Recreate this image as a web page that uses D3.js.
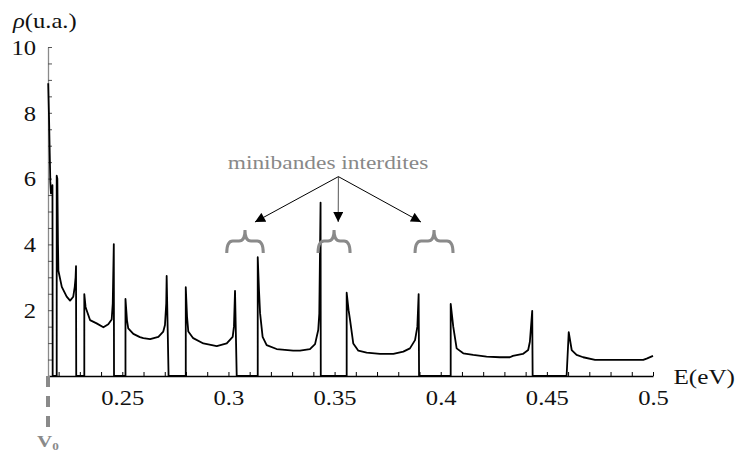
<!DOCTYPE html>
<html><head><meta charset="utf-8">
<script src="https://cdn.jsdelivr.net/npm/d3@7"></script>
<style>body{margin:0;background:#fff} svg{display:block}</style>
</head><body><svg id="c" width="737" height="452"></svg>
<script>
// Density of states rho(E) (u.a.) versus energy E (eV)
const energy = [
  0.2151,0.2155,0.2158,0.2161,0.2164,0.2168,0.2171,0.2172,
  0.2191,0.2191,0.2194,0.2197,0.2199,0.2215,0.2238,0.2254,0.2269,0.2276,0.2280,0.2282,0.2283,
  0.2321,0.2321,0.2327,0.2332,0.2348,0.2379,0.2411,0.2434,0.2450,0.2455,0.2460,0.2461,
  0.2515,0.2515,0.2522,0.2528,0.2552,0.2583,0.2599,0.2631,0.2670,0.2693,0.2701,0.2707,0.2709,0.2718,
  0.2799,0.2799,0.2805,0.2811,0.2834,0.2882,0.2945,0.2992,0.3020,0.3026,0.3031,0.3039,
  0.3138,0.3138,0.3144,0.3149,0.3161,0.3180,0.3227,0.3305,0.3337,0.3384,0.3408,0.3423,0.3428,0.3434,0.3435,
  0.3557,0.3557,0.3566,0.3573,0.3588,0.3612,0.3651,0.3714,0.3777,0.3824,0.3855,0.3879,0.3890,0.3896,0.3898,
  0.4047,0.4047,0.4059,0.4075,0.4106,0.4153,0.4216,0.4279,0.4326,0.4340,0.4387,0.4412,0.4420,0.4431,0.4433,
  0.4593,0.4603,0.4617,0.4640,0.4671,0.4727,0.4813,0.4954,0.4970,0.5000
];
const dos = [
  8.9,7.8,6.8,5.9,5.55,5.6,5.8,0,
  0,6.09,6.0,4.0,3.2,2.71,2.41,2.29,2.41,2.71,3.0,3.34,0,
  0,2.49,2.1,2.0,1.70,1.60,1.48,1.57,1.72,2.2,4.01,0,
  0,2.34,1.70,1.45,1.28,1.18,1.15,1.12,1.19,1.35,1.55,2.2,3.04,0,
  0,2.70,1.80,1.35,1.15,0.99,0.91,0.99,1.19,1.50,2.59,0,
  0,3.61,2.60,1.91,1.19,0.94,0.82,0.77,0.77,0.82,0.97,1.40,1.90,5.27,0,
  0,2.53,2.00,1.70,0.99,0.77,0.71,0.67,0.67,0.74,0.84,1.09,1.50,2.49,0,
  0,2.19,1.50,0.84,0.69,0.64,0.59,0.57,0.57,0.61,0.67,0.79,1.04,1.98,0,
  0,1.33,0.79,0.64,0.57,0.49,0.49,0.49,0.53,0.61
];
const xMajorTicks = [0.25,0.30,0.35,0.40,0.45,0.50];
const xMajorLabels = ["0.25","0.3","0.35","0.4","0.45","0.5"];
const xMinorTicks = [0.22,0.23,0.24,0.25,0.26,0.27,0.28,0.29,0.30,0.31,0.32,0.33,0.34,0.35,0.36,0.37,0.38,0.39,0.40,0.41,0.42,0.43,0.44,0.45,0.46,0.47,0.48,0.49,0.50];
const yMajorTicks = [2,4,6,8,10];
const yMajorLabels = ["2","4","6","8","10"];
const yMinorTicks = [0.5,1,1.5,2,2.5,3,3.5,4,4.5,5,5.5,6,6.5,7,7.5,8,8.5,9,9.5,10];
const V0 = 0.215;
// forbidden minibands (gaps) marked by braces
const gapStart = [0.2992,0.3422,0.3879];
const gapEnd   = [0.3164,0.3573,0.4058];
const arrowTipE = [0.3125,0.3517,0.3907];
const arrowTipRho = 4.68;
const arrowFrom = [0.3518, 6.06];
const annotation = "minibandes interdites";

const FONT = '"Liberation Serif", "Times New Roman", serif';
const SX = 1.2; // horizontal glyph stretch seen in the reference
const svg = d3.select("#c");
const x = d3.scaleLinear().domain([0.215,0.5]).range([48,653]);
const y = d3.scaleLinear().domain([0,10]).range([376,47]);

function stext(parent, px, py, anchor, size, fill){
  return parent.append("text").attr("transform",`translate(${px},${py}) scale(${SX},1)`)
    .attr("text-anchor",anchor).style("font-family",FONT).style("font-size",size+"px").attr("fill",fill);
}

// x axis minor ticks (inside)
const gx = svg.append("g").attr("transform","translate(0,376)")
  .call(d3.axisBottom(x).tickValues(xMinorTicks).tickSizeInner(-4).tickSizeOuter(0).tickFormat(""));
gx.select(".domain").attr("stroke","#000").attr("stroke-width",1.3);
gx.selectAll(".tick line").attr("stroke","#000").attr("stroke-width",1);
const gxl = svg.append("g").attr("transform","translate(0,376)")
  .call(d3.axisBottom(x).tickValues(xMajorTicks).tickSize(0).tickPadding(0).tickFormat((d,i)=>xMajorLabels[i]));
gxl.select(".domain").remove();
gxl.selectAll("text").style("font-family",FONT).style("font-size","20.5px")
  .attr("fill","#111").attr("y",29.5).attr("dy",0).attr("transform",`scale(${SX},1)`);

// y axis
const gy = svg.append("g").attr("transform","translate(48,0)")
  .call(d3.axisLeft(y).tickValues(yMinorTicks).tickSizeInner(-4).tickSizeOuter(0).tickFormat(""));
gy.select(".domain").attr("stroke","#8a8a8a").attr("stroke-width",1.3);
gy.selectAll(".tick line").attr("stroke","#555").attr("stroke-width",1);
const gyl = svg.append("g").attr("transform","translate(48,0)")
  .call(d3.axisLeft(y).tickValues(yMajorTicks).tickSize(0).tickPadding(0).tickFormat((d,i)=>yMajorLabels[i]));
gyl.select(".domain").remove();
gyl.selectAll("text").style("font-family",FONT).style("font-size","20.5px")
  .attr("fill","#111").attr("x",-12/SX).attr("dy","0.36em").attr("transform",`scale(${SX},1)`);

// curve
const pts = energy.map((e,i)=>[e,dos[i]]);
svg.append("path").datum(pts)
  .attr("d", d3.line().x(d=>x(d[0])).y(d=>y(d[1])))
  .attr("fill","none").attr("stroke","#000").attr("stroke-width",1.8).attr("stroke-linejoin","round");

// V0 dashed marker
svg.append("line").attr("x1",x(V0)).attr("x2",x(V0)).attr("y1",y(0)).attr("y2",430)
  .attr("stroke","#8a8a8a").attr("stroke-width",4).attr("stroke-dasharray","11,9");
const v0t = stext(svg, 37, 447, "start", 17.5, "#8a8a8a").style("font-weight","bold");
v0t.append("tspan").text("V");
v0t.append("tspan").style("font-size","11px").attr("dy",3).text("0");

// axis titles
const yt = stext(svg, 13, 28, "start", 20.5, "#111");
yt.append("tspan").style("font-style","italic").text("ρ");
yt.append("tspan").text("(u.a.)");
stext(svg, 735, 384, "end", 21, "#111").text("E(eV)");

// annotation
stext(svg, 328, 169, "middle", 19.5, "#888").text(annotation);

svg.append("defs").append("marker").attr("id","ah").attr("viewBox","0 0 10 10")
  .attr("refX",10).attr("refY",5).attr("markerWidth",11).attr("markerHeight",10)
  .attr("markerUnits","userSpaceOnUse").attr("orient","auto")
  .append("path").attr("d","M0,0L10,5L0,10Z").attr("fill","#000");

arrowTipE.forEach((e,i)=>{
  svg.append("line").attr("x1",x(arrowFrom[0])).attr("y1",y(arrowFrom[1]))
    .attr("x2",x(e)).attr("y2",y(arrowTipRho))
    .attr("stroke", i===1 ? "#555" : "#000").attr("stroke-width",1)
    .attr("marker-end","url(#ah)");
});

// braces
gapStart.forEach((s,i)=>{
  const x0 = x(s), x1 = x(gapEnd[i]), xc = (x0+x1)/2;
  const yb = 253, ym = 241, yt2 = 230, r = 6;
  const d = `M${x0},${yb} Q${x0},${ym} ${x0+r},${ym} L${xc-r},${ym} Q${xc},${ym} ${xc},${yt2} Q${xc},${ym} ${xc+r},${ym} L${x1-r},${ym} Q${x1},${ym} ${x1},${yb}`;
  svg.append("path").attr("d",d).attr("fill","none").attr("stroke","#8a8a8a").attr("stroke-width",3);
});
</script></body></html>
